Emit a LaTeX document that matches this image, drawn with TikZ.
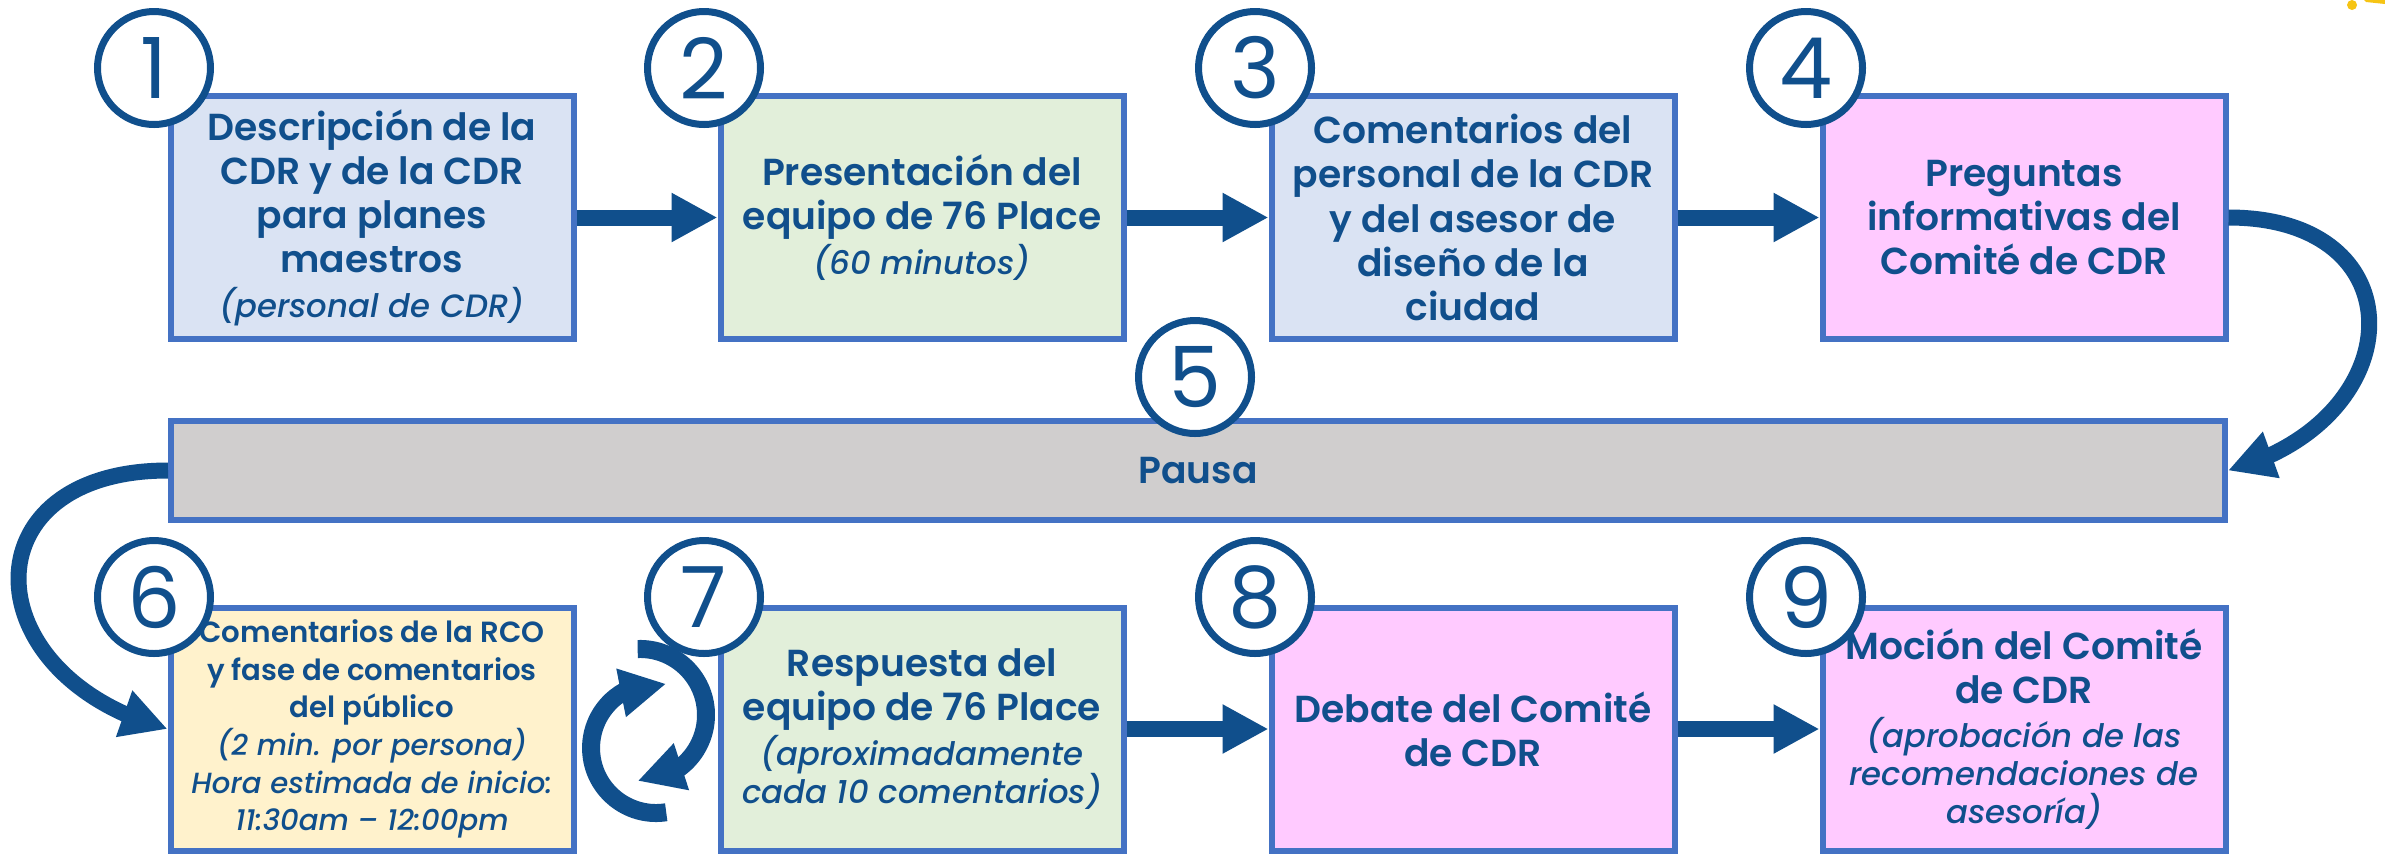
\documentclass[tikz,border=0pt]{standalone}
\usepackage{fontspec}
\setmainfont{Poppins}[BoldFont={Poppins SemiBold}, ItalicFont={Poppins Medium Italic}, BoldItalicFont={Poppins SemiBold Italic}]
\usetikzlibrary{arrows.meta,bending}

\definecolor{navy}{RGB}{16,79,140}
\definecolor{edge}{RGB}{68,114,196}
\definecolor{fillblue}{RGB}{218,227,243}
\definecolor{fillgreen}{RGB}{226,239,218}
\definecolor{fillpink}{RGB}{255,202,255}
\definecolor{fillyellow}{RGB}{255,242,204}
\definecolor{fillgray}{RGB}{208,206,206}
\definecolor{sunyellow}{RGB}{246,196,20}

\newcommand{\subline}[2][9.2]{{\mdseries\itshape\fontsize{#1}{11}\selectfont #2}}

\begin{document}
\begin{tikzpicture}[
    stage/.style={draw=edge, line width=0.06cm, minimum width=4.03cm, minimum height=2.43cm,
                  inner sep=0pt, align=center, text=navy, font=\fontsize{10.7}{12.6}\selectfont\bfseries},
    num/.style={circle, draw=navy, line width=0.07cm, fill=white, minimum size=1.13cm,
                inner sep=0pt, text=navy, font=\fontsize{24}{24}\selectfont},
    flow/.style={draw=navy, line width=0.16cm, -{Triangle[length=0.46cm, width=0.46cm]}},
    loop/.style={flow, line width=0.18cm}]
        \useasboundingbox[fill=white] (0,0) rectangle (23.85,8.53);       %
        % top row
        \node[stage, fill=fillblue]   (b1) at (3.72,6.355)  {Descripción de la\\CDR y de la CDR\\para planes\\maestros\\\subline{(personal de CDR)}};
        \node[stage, fill=fillgreen]  (b2) at (9.22,6.355)  {Presentación del\\equipo de 76 Place\\\subline{(60 minutos)}};
        \node[stage, fill=fillblue]   (b3) at (14.73,6.355) {Comentarios del\\personal de la CDR\\y del asesor de\\diseño de la\\ciudad};
        \node[stage, fill=fillpink]   (b4) at (20.24,6.355) {Preguntas\\informativas del\\Comité de CDR};
        % pause bar
        \node[stage, fill=fillgray, minimum width=20.54cm, minimum height=0.99cm] (pause) at (11.98,3.825) {Pausa};
        % bottom row
        \node[stage, fill=fillyellow, font=\fontsize{8.3}{10.7}\selectfont\bfseries]
                                      (b6) at (3.72,1.24)   {Comentarios de la RCO\\y fase de comentarios\\del público\\\subline[8.3]{(2 min. por persona)}\\\subline[8.3]{Hora estimada de inicio:}\\\subline[8.3]{11:30am – 12:00pm}};
        \node[stage, fill=fillgreen]  (b7) at (9.22,1.24)   {Respuesta del\\equipo de 76 Place\\\subline{(aproximadamente}\\[-1.8pt]\subline{cada 10 comentarios)}};
        \node[stage, fill=fillpink]   (b8) at (14.73,1.24)  {Debate del Comité\\de CDR};
        \node[stage, fill=fillpink]   (b9) at (20.24,1.24)  {Moción del Comité\\de CDR\\\subline{(aprobación de las}\\[-1.8pt]\subline{recomendaciones de}\\[-1.8pt]\subline{asesoría)}};
        % arrows
        \draw[flow] (b1) -- (b2);                                          %
        \draw[flow] (b2) -- (b3);                                          %
        \draw[flow] (b3) -- (b4);                                          %
        \draw[flow] (b4.east) to[out=0, in=15, looseness=1.93] (pause.east);
        \draw[flow] (pause.west) to[out=180, in=165, looseness=2] (b6.west);
        \draw[flow] (b7) -- (b8);                                          %
        \draw[flow] (b8) -- (b9);                                          %
        % repeat sign between 6 and 7
        \draw[loop] (6.377,2.04) arc[start angle=92, end angle=-92, radius=0.66];
        \draw[loop] (6.662,0.408) arc[start angle=-81, end angle=-279, radius=0.65];
        % step numbers
        \node[num] (n1) at (1.54,7.85)  {1};                               %
        \node[num] (n2) at (7.04,7.85)  {2};                               %
        \node[num] (n3) at (12.55,7.85) {3};                               %
        \node[num] (n4) at (18.06,7.85) {4};                               %
        \node[num] (n5) at (11.95,4.76) {5};                               %
        \node[num] (n6) at (1.54,2.56)  {6};                               %
        \node[num] (n7) at (7.04,2.56)  {7};                               %
        \node[num] (n8) at (12.55,2.56) {8};                               %
        \node[num] (n9) at (18.06,2.56) {9};                               %
        % clipped ornament, top right
        \fill[sunyellow] (23.52,8.48) circle (0.05);                       %
        \fill[sunyellow] (23.64,8.53) -- (23.85,8.53) -- (23.85,8.49) -- (23.66,8.51) -- cycle;
\end{tikzpicture}
\end{document}
